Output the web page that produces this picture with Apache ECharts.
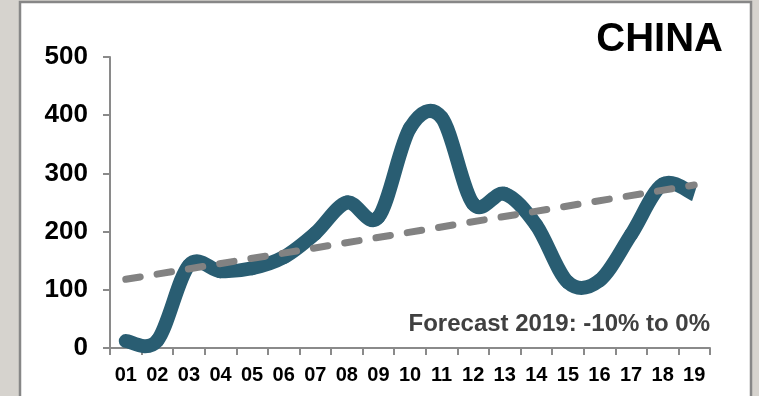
<!DOCTYPE html>
<html>
<head>
<meta charset="utf-8">
<script src="https://cdn.jsdelivr.net/npm/echarts@6/dist/echarts.min.js"></script>
<style>
  html, body { margin: 0; padding: 0; background: #d6d3ce; }
  #chart { width: 759px; height: 396px; }
</style>
</head>
<body>
<div id="chart"></div>
<script>
// Years (two-digit labels)
const categories = ['01','02','03','04','05','06','07','08','09','10','11','12','13','14','15','16','17','18','19'];
// Annual values
const values = [12, 13, 142, 132, 137, 156, 197, 250, 225, 378, 396, 248, 265, 211, 113, 116, 195, 281, 264];
// Trend line: start and end values, joined straight across
const trend = [118, null, null, null, null, null, null, null, null, null, null, null, null, null, null, null, null, null, 280];
const yTicks = [0, 100, 200, 300, 400, 500];
const titleText = 'CHINA';
const noteText = 'Forecast 2019: -10% to 0%';

const FONT = '"Liberation Sans", Arial, sans-serif';
const LINE_COLOR = '#295d72';
const chart = echarts.init(document.getElementById('chart'), null, { renderer: 'canvas' });

// One Catmull-Rom Bezier piece per data item, from point i to point i+1,
// with every point placed through the axis scales.
function renderSmoothSegment(params, api) {
  const i = params.dataIndex;
  const n = values.length;
  if (i >= n - 1) return null;
  const pt = k => {
    const kk = Math.max(0, Math.min(n - 1, k));
    return api.coord([kk, values[kk]]);
  };
  const p0 = pt(i - 1), p1 = pt(i), p2 = pt(i + 1), p3 = pt(i + 2);
  const t = 1 / 6;
  return {
    type: 'bezierCurve',
    shape: {
      x1: p1[0], y1: p1[1],
      cpx1: p1[0] + (p2[0] - p0[0]) * t, cpy1: p1[1] + (p2[1] - p0[1]) * t,
      cpx2: p2[0] - (p3[0] - p1[0]) * t, cpy2: p2[1] - (p3[1] - p1[1]) * t,
      x2: p2[0], y2: p2[1]
    },
    style: {
      stroke: LINE_COLOR,
      fill: 'none',
      lineWidth: 14,
      lineCap: i === n - 2 ? 'butt' : 'round'
    }
  };
}

chart.setOption({
  backgroundColor: '#d6d3ce',
  animation: false,
  grid: { left: 110, right: 49, top: 57, bottom: 48 },
  graphic: [
    {
      type: 'rect', z: -10, silent: true,
      shape: { x: 20, y: 2, width: 731, height: 420 },
      style: { fill: '#ffffff', stroke: '#878787', lineWidth: 2.5 }
    },
    {
      type: 'text', z: 10,
      style: {
        text: titleText, x: 723, y: 40, align: 'right', verticalAlign: 'middle',
        font: 'bold 40px ' + FONT, fill: '#000000'
      }
    },
    {
      type: 'text', z: 10,
      style: {
        text: noteText, x: 710, y: 324, align: 'right', verticalAlign: 'middle',
        font: 'bold 24px ' + FONT, fill: '#404040'
      }
    }
  ],
  xAxis: {
    type: 'category',
    data: categories,
    boundaryGap: true,
    axisLine: { show: true, lineStyle: { color: '#8a8a8a', width: 2 } },
    axisTick: { show: true, interval: 0, alignWithLabel: false, length: 7, lineStyle: { color: '#8a8a8a', width: 2 } },
    axisLabel: { interval: 0, margin: 17, color: '#000000', fontFamily: FONT, fontWeight: 'bold', fontSize: 20 },
    splitLine: { show: false }
  },
  yAxis: {
    type: 'value',
    min: yTicks[0],
    max: yTicks[yTicks.length - 1],
    interval: 100,
    axisLine: { show: true, lineStyle: { color: '#8a8a8a', width: 2 } },
    axisTick: { show: true, length: 7, lineStyle: { color: '#8a8a8a', width: 2 } },
    axisLabel: { margin: 22, color: '#000000', fontFamily: FONT, fontWeight: 'bold', fontSize: 26 },
    splitLine: { show: false }
  },
  series: [
    {
      type: 'custom',
      data: values.map((v, i) => [i, v]),
      encode: { x: 0, y: 1 },
      renderItem: renderSmoothSegment,
      z: 2,
      silent: true
    },
    {
      type: 'line',
      data: trend,
      connectNulls: true,
      showSymbol: false,
      z: 3,
      lineStyle: { color: '#828282', width: 7, type: [14.6, 17.1], cap: 'round' }
    }
  ]
});
</script>
</body>
</html>
